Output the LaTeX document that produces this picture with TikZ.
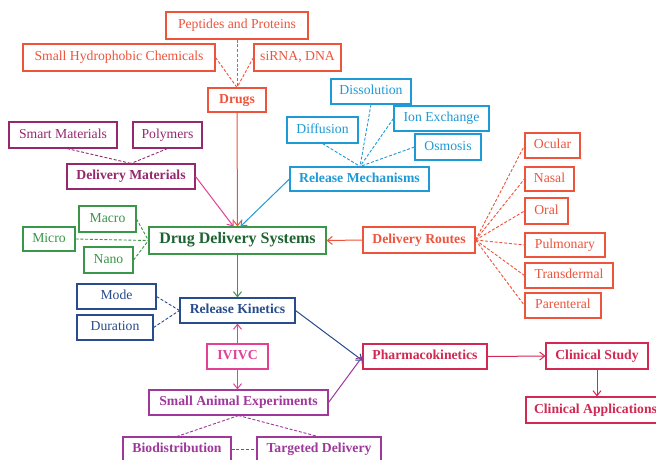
\documentclass[tikz,border=0pt]{standalone}
\usepackage{fontspec}
\setmainfont{Liberation Serif}
\usetikzlibrary{arrows.meta}
\definecolor{drugc}{RGB}{238,84,60}
\definecolor{matc}{RGB}{150,40,110}
\definecolor{pinkc}{RGB}{228,64,150}
\definecolor{bluec}{RGB}{30,154,214}
\definecolor{greenc}{RGB}{58,150,72}
\definecolor{ddsc}{RGB}{30,100,50}
\definecolor{kinc}{RGB}{40,76,140}
\definecolor{saec}{RGB}{160,56,156}
\definecolor{pkc}{RGB}{210,40,82}
\tikzset{
  box/.style={draw, line width=1.1pt, rectangle, inner sep=0pt, align=center,
    font=\fontsize{13.7}{15}\selectfont, text height=9.5pt, text depth=2.8pt},
  bbox/.style={box, font=\fontsize{13.7}{15}\selectfont\bfseries},
  dl/.style={dashed, dash pattern=on 3pt off 1.8pt, line width=0.9pt},
  arr/.style={line width=1pt, -{Straight Barb[length=5pt,width=8pt,line width=1pt]}},
}
\begin{document}
\begin{tikzpicture}[x=1pt,y=-1pt]
\clip (0,0) rectangle (656,459);
\fill[white] (0,0) rectangle (656,459);
% Drugs group
\node[box, drugc, minimum width=142, minimum height=27] (pep) at (237,25.5) {Peptides and Proteins};
\node[box, drugc, minimum width=192, minimum height=27] (shc) at (119,57.5) {Small Hydrophobic Chemicals};
\node[box, drugc, minimum width=87, minimum height=27] (sirna) at (297.5,57.5) {siRNA, DNA};
\node[bbox, drugc, minimum width=58, minimum height=24] (drugs) at (237,100) {Drugs};
% Delivery materials
\node[box, matc, minimum width=108, minimum height=26] (smart) at (63,135) {Smart Materials};
\node[box, matc, minimum width=69, minimum height=26] (poly) at (167.5,135) {Polymers};
\node[bbox, matc, minimum width=128, minimum height=25] (dm) at (131,176.5) {Delivery Materials};
% Release mechanisms
\node[box, bluec, minimum width=80, minimum height=25] (diss) at (371,91.5) {Dissolution};
\node[box, bluec, minimum width=95, minimum height=25] (ion) at (441.5,118.5) {Ion Exchange};
\node[box, bluec, minimum width=71, minimum height=26] (diff) at (322.5,130) {Diffusion};
\node[box, bluec, minimum width=66, minimum height=26] (osm) at (448,147) {Osmosis};
\node[bbox, bluec, minimum width=139, minimum height=24] (rm) at (359.5,179) {Release Mechanisms};
% Delivery routes
\node[box, drugc, minimum width=55, minimum height=25] (ocular) at (552.5,145.5) {Ocular};
\node[box, drugc, minimum width=49, minimum height=24] (nasal) at (549.5,179) {Nasal};
\node[box, drugc, minimum width=43, minimum height=26] (oral) at (546.5,211) {Oral};
\node[box, drugc, minimum width=80, minimum height=24] (pulm) at (565,245) {Pulmonary};
\node[box, drugc, minimum width=88, minimum height=25] (trans) at (569,275.5) {Transdermal};
\node[box, drugc, minimum width=76, minimum height=25] (paren) at (563,305.5) {Parenteral};
\node[bbox, drugc, minimum width=112, minimum height=26] (dr) at (419,240) {Delivery Routes};
% DDS
\node[box, greenc, minimum width=57, minimum height=26] (macro) at (107.5,219) {Macro};
\node[box, greenc, minimum width=52, minimum height=24] (micro) at (49,239) {Micro};
\node[box, greenc, minimum width=49, minimum height=26] (nano) at (108.5,260) {Nano};
\node[box, greenc, text=ddsc, minimum width=177, minimum height=27, font=\fontsize{16}{18}\selectfont\bfseries] (dds) at (237.5,240.5) {Drug Delivery Systems};
% Release kinetics
\node[box, kinc, minimum width=79, minimum height=25] (mode) at (116.5,296.5) {Mode};
\node[box, kinc, minimum width=76, minimum height=25] (dur) at (115,327.5) {Duration};
\node[bbox, kinc, minimum width=115, minimum height=25] (rk) at (237.5,310.5) {Release Kinetics};
% IVIVC / SAE
\node[bbox, pinkc, minimum width=61, minimum height=25] (ivivc) at (237.5,356.5) {IVIVC};
\node[bbox, saec, minimum width=179, minimum height=25] (sae) at (238.5,402.5) {Small Animal Experiments};
\node[bbox, saec, minimum width=108, minimum height=25] (bio) at (177,449.5) {Biodistribution};
\node[bbox, saec, minimum width=124, minimum height=25] (td) at (319,449.5) {Targeted Delivery};
% PK / clinical
\node[bbox, pkc, minimum width=124, minimum height=25] (pk) at (425,356.5) {Pharmacokinetics};
\node[bbox, pkc, minimum width=102, minimum height=26] (cs) at (597,356) {Clinical Study};
\node[bbox, pkc, minimum width=139, minimum height=26] (ca) at (595.5,410) {Clinical Applications};
% dashed connectors
\draw[dl, drugc] (pep.south) -- (drugs.north);
\draw[dl, drugc] (shc.east) -- (drugs.north);
\draw[dl, drugc] (sirna.west) -- (drugs.north);
\draw[dl, matc] ([xshift=4]smart.south) -- (dm.north);
\draw[dl, matc] (poly.south) -- (dm.north);
\coordinate (rmtop) at ([xshift=0.5]rm.north);
\draw[dl, bluec] (diff.south) -- (rmtop);
\draw[dl, bluec] (diss.south) -- (rmtop);
\draw[dl, bluec] (ion.west) -- (rmtop);
\draw[dl, bluec] (osm.west) -- (rmtop);
\foreach \n in {ocular,nasal,oral,pulm,trans,paren}
  \draw[dl, drugc] (dr.east) -- (\n.west);
\draw[dl, greenc] (macro.east) -- (dds.west);
\draw[dl, greenc] (micro.east) -- (dds.west);
\draw[dl, greenc] (nano.east) -- (dds.west);
\draw[dl, kinc] (mode.east) -- (rk.west);
\draw[dl, kinc] (dur.east) -- (rk.west);
\draw[dl, saec] (sae.south) -- (bio.north);
\draw[dl, saec] (sae.south) -- ([xshift=-1]td.north);
\draw[dl, saec] (bio.east) -- (td.west);
% arrows
\draw[arr, drugc] (drugs.south) -- (dds.north);
\draw[arr, pinkc] (dm.east) -- ([xshift=-4]dds.north);
\draw[arr, bluec] (rm.west) -- ([xshift=3]dds.north);
\draw[arr, drugc] (dr.west) -- (dds.east);
\draw[arr, greenc] (dds.south) -- (rk.north);
\draw[arr, pinkc] (ivivc.north) -- (rk.south);
\draw[arr, pinkc] (ivivc.south) -- ([xshift=-1]sae.north);
\draw[arr, kinc] (rk.east) -- ([yshift=-4]pk.west);
\draw[arr, saec] (sae.east) -- (pk.west);
\draw[arr, pkc] (pk.east) -- (cs.west);
\draw[arr, pkc] ([xshift=1.5]ca.north |- cs.south) -- ([xshift=1.5]ca.north);
\end{tikzpicture}
\end{document}
